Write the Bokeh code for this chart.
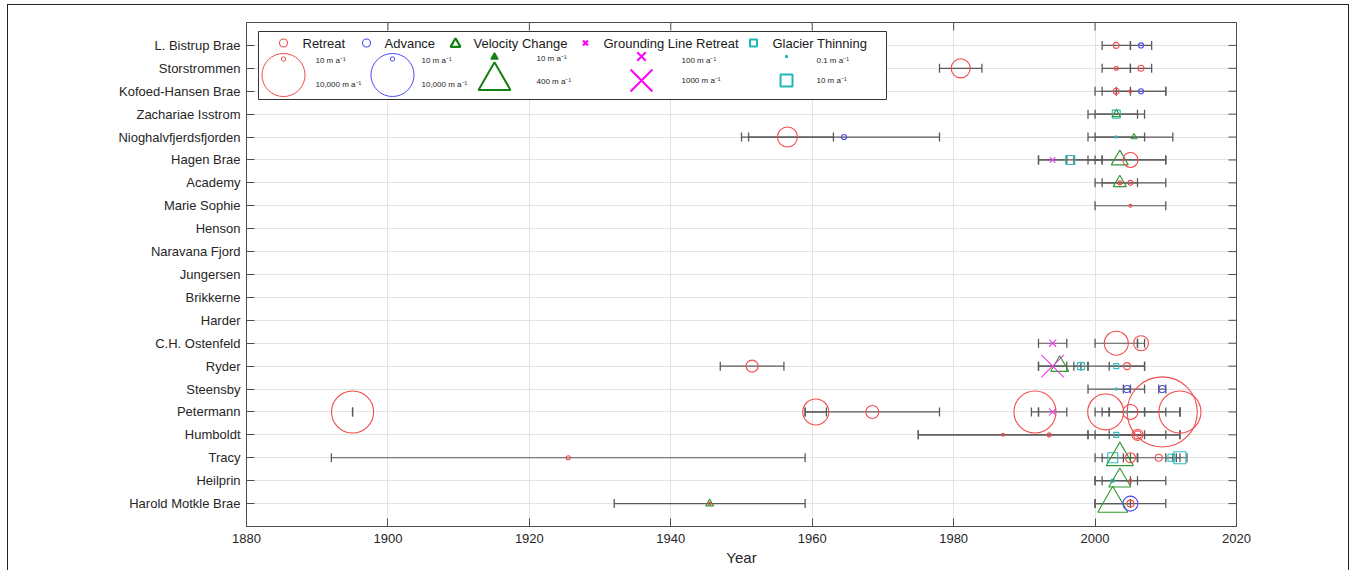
import numpy as np
from bokeh.plotting import figure
from bokeh.models import FixedTicker, Range1d, InlineStyleSheet
from bokeh.core.properties import value
from bokeh.embed import file_html
from bokeh.resources import INLINE

# ---------------- data ----------------
glaciers = ["Harold Motkle Brae", "Heilprin", "Tracy", "Humboldt", "Petermann",
            "Steensby", "Ryder", "C.H. Ostenfeld", "Harder", "Brikkerne",
            "Jungersen", "Naravana Fjord", "Henson", "Marie Sophie", "Academy",
            "Hagen Brae", "Nioghalvfjerdsfjorden", "Zachariae Isstrom",
            "Kofoed-Hansen Brae", "Storstrommen", "L. Bistrup Brae"]

year_ticks = [1880, 1900, 1920, 1940, 1960, 1980, 2000, 2020]

# observation periods (black bars)
span_glacier = ["L. Bistrup Brae", "L. Bistrup Brae",
                "Storstrommen", "Storstrommen", "Storstrommen",
                "Kofoed-Hansen Brae", "Kofoed-Hansen Brae", "Kofoed-Hansen Brae",
                "Zachariae Isstrom", "Zachariae Isstrom",
                "Nioghalvfjerdsfjorden", "Nioghalvfjerdsfjorden", "Nioghalvfjerdsfjorden", "Nioghalvfjerdsfjorden",
                "Hagen Brae", "Hagen Brae", "Hagen Brae", "Hagen Brae", "Hagen Brae",
                "Academy", "Academy",
                "Marie Sophie",
                "C.H. Ostenfeld", "C.H. Ostenfeld", "C.H. Ostenfeld",
                "Ryder", "Ryder", "Ryder", "Ryder", "Ryder", "Ryder",
                "Steensby", "Steensby", "Steensby",
                "Petermann", "Petermann", "Petermann", "Petermann", "Petermann", "Petermann",
                "Petermann", "Petermann", "Petermann", "Petermann",
                "Humboldt", "Humboldt", "Humboldt", "Humboldt", "Humboldt",
                "Tracy", "Tracy", "Tracy", "Tracy", "Tracy", "Tracy", "Tracy",
                "Heilprin", "Heilprin", "Heilprin",
                "Harold Motkle Brae", "Harold Motkle Brae", "Harold Motkle Brae"]
span_start = [2001, 2005,
              1978, 2001, 2005,
              2001, 2000, 2003,
              1999, 2000,
              1950, 1951, 1999, 2000,
              1992, 1992, 1997, 1999, 2000,
              2001, 2000,
              2000,
              1992, 2000, 2006,
              1947, 1992, 1992, 1997, 1999, 2002,
              1999, 2004, 2009,
              1895, 1959, 1959, 1991, 1992, 2001, 2000, 2002, 2007, 2012,
              1975, 1975, 1999, 2000, 2002,
              1892, 2001, 2000, 2004, 2006, 2010, 2011,
              2001, 2000, 2000,
              1932, 2000, 2000]
span_end = [2005, 2008,
            1984, 2005, 2008,
            2005, 2010, 2010,
            2007, 2006,
            1963, 1978, 2007, 2011,
            1996, 2001, 2010, 2001, 2010,
            2006, 2010,
            2010,
            1996, 2006, 2007,
            1956, 1996, 1998, 1999, 2007, 2007,
            2007, 2005, 2010,
            1895, 1962, 1978, 1992, 1996, 2002, 2010, 2007, 2012, 2012,
            1999, 2012, 2007, 2012, 2010,
            1959, 2006, 2005, 2006, 2012, 2011.5, 2013,
            2006, 2010, 2005,
            1959, 2005, 2010]

# Retreat (m/a)
retreat_glacier = ["L. Bistrup Brae", "Storstrommen", "Storstrommen", "Storstrommen",
                   "Kofoed-Hansen Brae", "Kofoed-Hansen Brae", "Nioghalvfjerdsfjorden",
                   "Hagen Brae", "Academy", "Academy", "Marie Sophie",
                   "C.H. Ostenfeld", "C.H. Ostenfeld", "Ryder", "Ryder",
                   "Petermann", "Petermann", "Petermann", "Petermann", "Petermann",
                   "Petermann", "Petermann", "Petermann",
                   "Humboldt", "Humboldt", "Humboldt", "Humboldt",
                   "Tracy", "Tracy", "Tracy", "Heilprin",
                   "Harold Motkle Brae", "Harold Motkle Brae"]
retreat_year = [2003, 1981, 2003, 2006.5,
                2003, 2005, 1956.5,
                2005, 2003.5, 2005, 2005,
                2003, 2006.5, 1951.5, 2004.5,
                1895, 1960.5, 1968.5, 1991.5, 2001.5, 2005, 2009.5, 2012,
                1987, 1993.5, 2006, 2006,
                1925.5, 2005, 2009, 2005,
                1945.5, 2005]
retreat_rate = [27, 860, 8, 27,
                27, 3, 1000,
                420, 8, 16, 3,
                1730, 420, 216, 43,
                9300, 2200, 275, 9300, 5800, 420, 43000, 9300,
                3, 8, 170, 64,
                8, 125, 43, 3,
                3, 43]

# Advance (m/a)
advance_glacier = ["L. Bistrup Brae", "Kofoed-Hansen Brae", "Nioghalvfjerdsfjorden",
                   "Steensby", "Steensby", "Harold Motkle Brae"]
advance_year = [2006.5, 2006.5, 1964.5, 2004.5, 2009.5, 2005]
advance_rate = [16, 16, 16, 43, 43, 420]

# Velocity change (m/a)
velocity_glacier = ["Zachariae Isstrom", "Nioghalvfjerdsfjorden", "Hagen Brae", "Academy",
                    "Ryder", "Tracy", "Heilprin", "Harold Motkle Brae", "Harold Motkle Brae"]
velocity_year = [2003, 2005.5, 2003.5, 2003.5, 1995, 2003.5, 2003.5, 1945.5, 2002.5]
velocity_rate = [8, 3.4, 66, 31, 78, 250, 140, 7.7, 335]

# Grounding line retreat (m/a)
grounding_glacier = ["Hagen Brae", "C.H. Ostenfeld", "Ryder", "Petermann"]
grounding_year = [1994, 1994, 1994, 1994]
grounding_rate = [37, 64, 1085, 64]

# Glacier thinning (m/a)
thinning_glacier = ["Zachariae Isstrom", "Nioghalvfjerdsfjorden", "Hagen Brae",
                    "Ryder", "Ryder", "Steensby", "Petermann", "Humboldt",
                    "Tracy", "Tracy", "Tracy", "Heilprin"]
thinning_year = [2003, 2003, 1996.5, 1998, 2003, 2003, 2004.5, 2003,
                 2002.5, 2010.8, 2012, 2002.5]
thinning_rate = [3.5, 0.1, 4.8, 2.5, 1.05, 0.1, 0.1, 1.05, 6.3, 2.5, 10, 0.28]

# ---------------- helpers ----------------
row = {g: i + 1 for i, g in enumerate(glaciers)}
row_ticks = list(range(1, len(glaciers) + 1))


def rows(names):
    return [row[n] for n in names]


def size_ra(r):
    return 2.0 * np.asarray(r, float) ** (1 / 3)


def size_vel(r):
    return 3.92 * np.asarray(r, float) ** 0.35


def size_gl(r):
    return 1.8 * np.asarray(r, float) ** 0.412


def size_th(r):
    return 4.9 * np.asarray(r, float) ** 0.389


RED = "#f24b4b"
BLUE = "#4b4bf2"
GREEN = "#2f9a2f"
MAG = "#f03cf0"
CYAN = "#2cbcbc"
SPAN = "#5a5a5a"
AX = "#4d4d4d"
FONT = "Liberation Sans"

X0, X1, Y0, Y1 = 1880, 2020, 0, 22
FL, FT, FW, FH = 246, 22, 990, 504   # frame position in page pixels

p = figure(frame_width=FW, frame_height=FH, x_range=Range1d(X0, X1), y_range=Range1d(Y0, Y1),
           output_backend="svg", toolbar_location=None,
           min_border_left=FL, min_border_top=FT, min_border_right=119, min_border_bottom=44)
p.outline_line_color = AX
p.background_fill_color = "white"

# outer figure border (top, left and right sides) drawn with CSS
p.stylesheets = [InlineStyleSheet(css="""
:host { position: relative; }
:host::after {
  content: ""; position: absolute; left: 7px; top: 4px; right: 6px; bottom: 0px;
  border: 1px solid #222; border-bottom: none; pointer-events: none; z-index: 10;
}
""")]

# axes
p.xaxis.ticker = FixedTicker(ticks=year_ticks)
p.yaxis.ticker = FixedTicker(ticks=row_ticks)
p.yaxis.major_label_overrides = {i + 1: g for i, g in enumerate(glaciers)}
for ax in (p.xaxis[0], p.yaxis[0]):
    ax.axis_line_color = AX
    ax.major_tick_line_color = AX
    ax.major_tick_in = 8
    ax.major_tick_out = 0
    ax.minor_tick_line_color = None
    ax.major_label_text_font = FONT
    ax.major_label_text_font_size = "13px"
    ax.major_label_text_color = "#262626"
p.xaxis.major_label_standoff = 7
p.yaxis.major_label_standoff = 6
p.xaxis.axis_label = "Year"
p.xaxis.axis_label_text_font = FONT
p.xaxis.axis_label_text_font_size = "15px"
p.xaxis.axis_label_text_font_style = "normal"
p.xaxis.axis_label_text_color = "#262626"
p.xaxis.axis_label_standoff = 3

p.xgrid.ticker = FixedTicker(ticks=year_ticks)
p.ygrid.ticker = FixedTicker(ticks=row_ticks)
p.xgrid.grid_line_color = "#e3e3e3"
p.ygrid.grid_line_color = "#e3e3e3"

# inward ticks on the right and top edges (half of each dash is clipped by the frame)
p.scatter(x=[X1] * len(row_ticks), y=row_ticks, marker="dash", size=16, line_color=AX, line_width=1)
p.scatter(x=year_ticks, y=[Y1] * len(year_ticks), marker="dash", angle=np.pi / 2, size=16,
          line_color=AX, line_width=1)

# spans
sy = rows(span_glacier)
p.segment(x0=span_start, y0=sy, x1=span_end, y1=sy, line_color=SPAN, line_width=1.2)
p.scatter(x=span_start + span_end, y=sy + sy, marker="dash", angle=np.pi / 2, size=9,
          line_color=SPAN, line_width=1.3)

# markers
p.scatter(x=thinning_year, y=rows(thinning_glacier), marker="square", size=size_th(thinning_rate),
          fill_color=None, line_color=CYAN, line_width=1.1)
p.scatter(x=velocity_year, y=rows(velocity_glacier), marker="triangle", size=size_vel(velocity_rate),
          fill_color=None, line_color=GREEN, line_width=1.1)
p.scatter(x=grounding_year, y=rows(grounding_glacier), marker="x", size=size_gl(grounding_rate),
          line_color=MAG, line_width=1.1)
p.scatter(x=advance_year, y=rows(advance_glacier), marker="circle", size=size_ra(advance_rate),
          fill_color=None, line_color=BLUE, line_width=1.1)
p.scatter(x=retreat_year, y=rows(retreat_glacier), marker="circle", size=size_ra(retreat_rate),
          fill_color=None, line_color=RED, line_width=1.1)

# ---------------- legend (placed in page pixels) ----------------


def lx(px):
    return X0 + (px - FL) * (X1 - X0) / FW


def ly(py):
    return Y1 - (py - FT) * (Y1 - Y0) / FH


p.quad(left=lx(258), right=lx(886), top=ly(31), bottom=ly(99),
       fill_color="white", line_color="#333333", line_width=1)

r1 = ly(42.5)
p.scatter(x=[lx(283)], y=[r1], marker="circle", size=8, fill_color=None, line_color=RED, line_width=1.1)
p.scatter(x=[lx(366)], y=[r1], marker="circle", size=8, fill_color=None, line_color=BLUE, line_width=1.1)
p.scatter(x=[lx(455)], y=[ly(43.5)], marker="triangle", size=10, fill_color=None, line_color="#138013", line_width=2.2)
p.scatter(x=[lx(585)], y=[r1], marker="x", size=7, line_color="#ff00ff", line_width=2.2)
p.scatter(x=[lx(753)], y=[r1], marker="square", size=7, fill_color=None, line_color="#1fb8b8", line_width=2)

leg_labels = ["Retreat", "Advance", "Velocity Change", "Grounding Line Retreat", "Glacier Thinning"]
leg_lx = [302, 384, 473, 603, 772]
p.text(x=[lx(v) for v in leg_lx], y=[r1] * 5, text=leg_labels, text_font=value(FONT),
       text_font_size="13px", text_baseline="middle", text_align="left", text_color="#1a1a1a")

# size examples
p.scatter(x=[lx(283), lx(283)], y=[ly(74.5), ly(58.5)], marker="circle", size=size_ra([10000, 10]),
          fill_color=None, line_color=RED, line_width=1)
p.scatter(x=[lx(392), lx(392)], y=[ly(74.5), ly(58.5)], marker="circle", size=size_ra([10000, 10]),
          fill_color=None, line_color=BLUE, line_width=1)
p.scatter(x=[lx(494)], y=[ly(80.2)], marker="triangle", size=size_vel([400]),
          fill_color=None, line_color="#138013", line_width=2)
p.scatter(x=[lx(494)], y=[ly(56.5)], marker="triangle", size=size_vel([10]) * 0.8,
          fill_color="#138013", line_color="#138013", line_width=1.5)
p.scatter(x=[lx(641), lx(641)], y=[ly(80), ly(56)], marker="x", size=size_gl([1000, 100]),
          line_color="#ff00ff", line_width=2)
p.scatter(x=[lx(786)], y=[ly(80)], marker="square", size=size_th([10]),
          fill_color=None, line_color="#1fb8b8", line_width=2)
p.scatter(x=[lx(786)], y=[ly(56)], marker="square", size=size_th([0.1]),
          fill_color="#1fb8b8", line_color="#1fb8b8", line_width=1)

ex_x = [315, 315, 421, 421, 536, 536, 681, 681, 816, 816]
ex_y = [60, 84, 60, 84, 58, 81, 60, 80, 60, 80]
ex_t = ["10 m a\u207b\u00b9", "10,000 m a\u207b\u00b9", "10 m a\u207b\u00b9", "10,000 m a\u207b\u00b9",
        "10 m a\u207b\u00b9", "400 m a\u207b\u00b9", "100 m a\u207b\u00b9", "1000 m a\u207b\u00b9",
        "0.1 m a\u207b\u00b9", "10 m a\u207b\u00b9"]
p.text(x=[lx(v) for v in ex_x], y=[ly(v) for v in ex_y], text=ex_t, text_font=value(FONT),
       text_font_size="8px", text_baseline="middle", text_align="left", text_color="#1a1a1a")

open("out.html", "w").write(file_html(p, INLINE))
